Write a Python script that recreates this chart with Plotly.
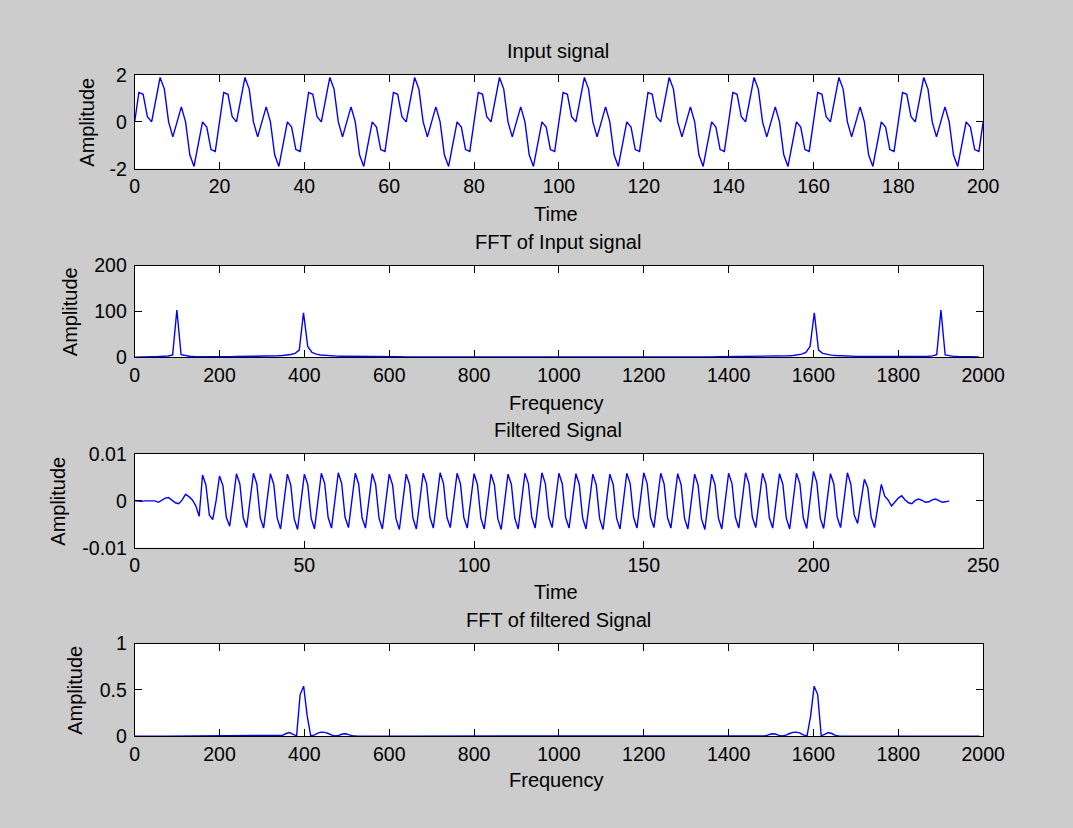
import numpy as np
import plotly.graph_objects as go

W, H = 1073, 828
FS = 2000

# ---------------- data ----------------
input_signal = [
    0.0, 1.26, 1.18, 0.22, 0.0, 1.0, 1.9, 1.4, 0.0, -0.64, 0.0, 0.64, 0.0, -1.4, -1.9, -1.0, 0.0, -0.22, -1.18, -1.26,
    0.0, 1.26, 1.18, 0.22, 0.0, 1.0, 1.9, 1.4, 0.0, -0.64, 0.0, 0.64, 0.0, -1.4, -1.9, -1.0, 0.0, -0.22, -1.18, -1.26,
    0.0, 1.26, 1.18, 0.22, 0.0, 1.0, 1.9, 1.4, 0.0, -0.64, 0.0, 0.64, 0.0, -1.4, -1.9, -1.0, 0.0, -0.22, -1.18, -1.26,
    0.0, 1.26, 1.18, 0.22, 0.0, 1.0, 1.9, 1.4, 0.0, -0.64, 0.0, 0.64, 0.0, -1.4, -1.9, -1.0, 0.0, -0.22, -1.18, -1.26,
    0.0, 1.26, 1.18, 0.22, 0.0, 1.0, 1.9, 1.4, 0.0, -0.64, 0.0, 0.64, 0.0, -1.4, -1.9, -1.0, 0.0, -0.22, -1.18, -1.26,
    0.0, 1.26, 1.18, 0.22, 0.0, 1.0, 1.9, 1.4, 0.0, -0.64, 0.0, 0.64, 0.0, -1.4, -1.9, -1.0, 0.0, -0.22, -1.18, -1.26,
    0.0, 1.26, 1.18, 0.22, 0.0, 1.0, 1.9, 1.4, 0.0, -0.64, 0.0, 0.64, 0.0, -1.4, -1.9, -1.0, 0.0, -0.22, -1.18, -1.26,
    0.0, 1.26, 1.18, 0.22, 0.0, 1.0, 1.9, 1.4, 0.0, -0.64, 0.0, 0.64, 0.0, -1.4, -1.9, -1.0, 0.0, -0.22, -1.18, -1.26,
    0.0, 1.26, 1.18, 0.22, 0.0, 1.0, 1.9, 1.4, 0.0, -0.64, 0.0, 0.64, 0.0, -1.4, -1.9, -1.0, 0.0, -0.22, -1.18, -1.26,
    0.0, 1.26, 1.18, 0.22, 0.0, 1.0, 1.9, 1.4, 0.0, -0.64, 0.0, 0.64, 0.0, -1.4, -1.9, -1.0, 0.0, -0.22, -1.18, -1.26,
    0.0,
]

input_fft = [
    0.2,
    0.8, 0.9, 1.0, 1.1, 1.3, 1.5, 1.9, 2.7, 5.0, 103.0,
    5.5, 3.0, 2.2, 1.8, 1.6, 1.5, 1.4, 1.4, 1.3, 1.3,
    1.35, 1.4, 1.45, 1.5, 1.55, 1.65, 1.75, 1.85, 1.95, 2.0,
    2.2, 2.5, 2.8, 3.2, 3.8, 4.7, 6.1, 8.5, 15.6, 97.0,
    23.4, 10.4, 6.7, 4.9, 3.9, 3.2, 2.8, 2.4, 2.2, 2.0,
    1.85, 1.7, 1.6, 1.5, 1.4, 1.3, 1.25, 1.2, 1.1, 1.05,
    1.0, 0.97, 0.94, 0.91, 0.88, 0.85, 0.83, 0.81, 0.79, 0.77,
    0.75, 0.74, 0.73, 0.72, 0.71, 0.7, 0.69, 0.68, 0.68, 0.67,
    0.67, 0.66, 0.66, 0.65, 0.65, 0.65, 0.64, 0.64, 0.64, 0.64,
    0.63, 0.63, 0.63, 0.63, 0.63, 0.62, 0.62, 0.62, 0.62, 0.62,
    0.62, 0.62, 0.62, 0.62, 0.62, 0.63, 0.63, 0.63, 0.63, 0.63,
    0.64, 0.64, 0.64, 0.64, 0.65, 0.65, 0.65, 0.66, 0.66, 0.67,
    0.67, 0.68, 0.68, 0.69, 0.7, 0.71, 0.72, 0.73, 0.74, 0.75,
    0.77, 0.79, 0.81, 0.83, 0.85, 0.88, 0.91, 0.94, 0.97, 1.0,
    1.05, 1.1, 1.2, 1.25, 1.3, 1.4, 1.5, 1.6, 1.7, 1.85,
    2.0, 2.2, 2.4, 2.8, 3.2, 3.9, 4.9, 6.7, 10.4, 23.4,
    97.0, 15.6, 8.5, 6.1, 4.7, 3.8, 3.2, 2.8, 2.5, 2.2,
    2.0, 1.95, 1.85, 1.75, 1.65, 1.55, 1.5, 1.45, 1.4, 1.35,
    1.3, 1.3, 1.4, 1.4, 1.5, 1.6, 1.8, 2.2, 3.0, 5.5,
    103.0, 5.0, 2.7, 1.9, 1.5, 1.3, 1.1, 1.0, 0.9, 0.8,
]

filtered_signal = [
    0.0, -0.0001, -0.0001, 0.0, 0.0, 0.0001, 0.0, -0.0003, 0.0001, 0.0006,
    0.0007, 0.0002, -0.0004, -0.0006, 0.0002, 0.0014, 0.0009, 0.0002, -0.0010, -0.0033,
    0.0055, 0.0034, -0.0030, -0.0040, 0.0001, 0.0053, 0.0033, -0.0035, -0.0054, 0.0000,
    0.0058, 0.0036, -0.0036, -0.0057, 0.0000,
    0.0059, 0.0036, -0.0036, -0.0058, 0.0001,
    0.0058, 0.0035, -0.0037, -0.0060, -0.0001,
    0.0057, 0.0034, -0.0038, -0.0061, -0.0002,
    0.0057, 0.0035, -0.0037, -0.0060, 0.0000,
    0.0059, 0.0037, -0.0035, -0.0058, 0.0001,
    0.0060, 0.0037, -0.0035, -0.0057, 0.0001,
    0.0059, 0.0036, -0.0036, -0.0058, 0.0000,
    0.0058, 0.0035, -0.0037, -0.0060, -0.0001,
    0.0057, 0.0034, -0.0038, -0.0061, -0.0001,
    0.0057, 0.0035, -0.0037, -0.0060, 0.0000,
    0.0059, 0.0037, -0.0035, -0.0058, 0.0001,
    0.0060, 0.0037, -0.0035, -0.0057, 0.0001,
    0.0059, 0.0036, -0.0036, -0.0058, 0.0000,
    0.0058, 0.0035, -0.0037, -0.0060, -0.0001,
    0.0057, 0.0034, -0.0038, -0.0061, -0.0001,
    0.0057, 0.0035, -0.0037, -0.0060, 0.0000,
    0.0059, 0.0037, -0.0035, -0.0058, 0.0001,
    0.0060, 0.0037, -0.0035, -0.0057, 0.0001,
    0.0059, 0.0036, -0.0036, -0.0058, 0.0000,
    0.0058, 0.0035, -0.0037, -0.0060, -0.0001,
    0.0057, 0.0034, -0.0038, -0.0061, -0.0001,
    0.0057, 0.0035, -0.0037, -0.0060, 0.0000,
    0.0059, 0.0037, -0.0035, -0.0058, 0.0001,
    0.0060, 0.0037, -0.0035, -0.0057, 0.0001,
    0.0059, 0.0036, -0.0036, -0.0058, 0.0000,
    0.0058, 0.0035, -0.0037, -0.0060, -0.0001,
    0.0057, 0.0034, -0.0038, -0.0061, -0.0001,
    0.0057, 0.0035, -0.0037, -0.0060, 0.0000,
    0.0059, 0.0037, -0.0035, -0.0058, 0.0001,
    0.0060, 0.0037, -0.0035, -0.0057, 0.0001,
    0.0059, 0.0036, -0.0036, -0.0058, 0.0000,
    0.0058, 0.0035, -0.0037, -0.0060, -0.0001,
    0.0059, 0.0037, -0.0036, -0.0059, 0.0001,
    0.0063, 0.0039, -0.0037, -0.0059, 0.0000,
    0.0058, 0.0036, -0.0035, -0.0057, 0.0001,
    0.0060, 0.0036, -0.0030, -0.0048, 0.0002,
    0.0046, 0.0028, -0.0035, -0.0057, -0.0010,
    0.0035, 0.0010, 0.0002, -0.0011, -0.0003,
    0.0006, 0.0011, 0.0002, -0.0004, -0.0006,
    0.0001, 0.0004, 0.0001, -0.0003, -0.0002,
    0.0002, 0.0004, 0.0000, -0.0003, -0.0002,
    0.0000,
]

filtered_fft = [
    0.001,
    0.002, 0.002, 0.003, 0.002, 0.002, 0.002, 0.003, 0.002, 0.002, 0.002,
    0.002, 0.003, 0.002, 0.002, 0.002, 0.002, 0.003, 0.002, 0.002, 0.002,
    0.002, 0.002, 0.003, 0.002, 0.002, 0.002, 0.002, 0.003, 0.002, 0.002,
    0.002, 0.003, 0.002, 0.002, 0.003, 0.002, 0.002, 0.003, 0.002, 0.003,
    0.004, 0.01, 0.03, 0.04, 0.02, 0.005, 0.45, 0.54, 0.22, 0.008,
    0.012, 0.035, 0.045, 0.042, 0.03, 0.012, 0.004, 0.01, 0.025, 0.027,
    0.015, 0.004, 0.003, 0.002, 0.002, 0.003, 0.002, 0.002, 0.002, 0.002,
    0.003, 0.002, 0.002, 0.002, 0.002, 0.002, 0.002, 0.002, 0.002, 0.002,
    0.002, 0.002, 0.002, 0.002, 0.002, 0.002, 0.002, 0.002, 0.002, 0.002,
    0.002, 0.002, 0.002, 0.002, 0.002, 0.002, 0.002, 0.002, 0.002, 0.002,
    0.002, 0.002, 0.002, 0.002, 0.002, 0.002, 0.002, 0.002, 0.002, 0.002,
    0.002, 0.002, 0.002, 0.002, 0.002, 0.002, 0.002, 0.002, 0.002, 0.002,
    0.002, 0.002, 0.002, 0.002, 0.002, 0.002, 0.002, 0.002, 0.002, 0.002,
    0.002, 0.002, 0.002, 0.002, 0.002, 0.002, 0.002, 0.002, 0.002, 0.002,
    0.002, 0.002, 0.002, 0.002, 0.002, 0.002, 0.002, 0.002, 0.002, 0.002,
    0.002, 0.002, 0.002, 0.002, 0.002, 0.002, 0.002, 0.002, 0.002, 0.002,
    0.002, 0.002, 0.002, 0.002, 0.002, 0.002, 0.002, 0.002, 0.002, 0.003,
    0.002, 0.002, 0.002, 0.002, 0.002, 0.002, 0.002, 0.003, 0.004, 0.015,
    0.027, 0.025, 0.01, 0.004, 0.012, 0.03, 0.042, 0.045, 0.035, 0.012,
    0.008, 0.22, 0.54, 0.45, 0.005, 0.02, 0.04, 0.03, 0.01, 0.004,
    0.003, 0.002, 0.003, 0.002, 0.002, 0.003, 0.002, 0.002, 0.003, 0.002,
    0.002, 0.002, 0.003, 0.002, 0.002, 0.002, 0.002, 0.003, 0.002, 0.002,
    0.002, 0.003, 0.002, 0.002, 0.002, 0.002, 0.003, 0.002, 0.002, 0.002,
    0.003, 0.002, 0.002, 0.002, 0.003, 0.002, 0.002, 0.002, 0.002, 0.002,
]

titles = ["Input signal", "FFT of Input signal", "Filtered Signal", "FFT of filtered Signal"]
xlabels = ["Time", "Frequency", "Time", "Frequency"]
ylabel = "Amplitude"

# ---------------- figure ----------------
t_in = np.arange(len(input_signal))
f_in = np.arange(len(input_fft)) * FS / len(input_fft)
t_f = np.arange(len(filtered_signal))
f_f = np.arange(len(filtered_fft)) * FS / len(filtered_fft)

FONT = "Liberation Sans, Arial, sans-serif"
TICK_SIZE = 19.5
TXT_SIZE = 20

def py(px):
    return 1 - px / H

def pxx(px):
    return px / W

x_dom = [pxx(133.0), pxx(1003.4)]
boxes = [(65.8, 162.1), (261.5, 355.7), (455.1, 551.4), (649.8, 745.1)]

fig = go.Figure()
series = [(t_in, input_signal), (f_in, input_fft), (t_f, filtered_signal), (f_f, filtered_fft)]
for i, (xv, yv) in enumerate(series):
    fig.add_trace(go.Scatter(x=xv, y=yv, mode="lines",
                             line=dict(color="#0000ff", width=1.4),
                             xaxis="x" if i == 0 else f"x{i+1}",
                             yaxis="y" if i == 0 else f"y{i+1}",
                             showlegend=False, hoverinfo="skip"))

xcfg = [
    dict(range=[0, 200], tickvals=[0, 20, 40, 60, 80, 100, 120, 140, 160, 180, 200]),
    dict(range=[0, 2000], tickvals=[0, 200, 400, 600, 800, 1000, 1200, 1400, 1600, 1800, 2000]),
    dict(range=[0, 250], tickvals=[0, 50, 100, 150, 200, 250]),
    dict(range=[0, 2000], tickvals=[0, 200, 400, 600, 800, 1000, 1200, 1400, 1600, 1800, 2000]),
]
ycfg = [
    dict(range=[-2, 2], tickvals=[-2, 0, 2], ticktext=["-2", "0", "2"]),
    dict(range=[0, 200], tickvals=[0, 100, 200], ticktext=["0", "100", "200"]),
    dict(range=[-0.01, 0.01], tickvals=[-0.01, 0, 0.01], ticktext=["-0.01", "0", "0.01"]),
    dict(range=[0, 1], tickvals=[0, 0.5, 1], ticktext=["0", "0.5", "1"]),
]

common = dict(showline=True, linecolor="#000000", linewidth=1, mirror="ticks",
              ticks="inside", ticklen=7, tickcolor="#000000", tickwidth=1,
              showgrid=False, zeroline=False, fixedrange=True,
              tickfont=dict(family=FONT, size=TICK_SIZE, color="#000000"))

layout = dict(width=W, height=H, autosize=False, margin=dict(l=0, r=0, t=0, b=0),
              paper_bgcolor="#cccccc", plot_bgcolor="#ffffff",
              font=dict(family=FONT, size=TXT_SIZE, color="#000000"))
for i in range(4):
    top, bot = boxes[i]
    xa = dict(common, domain=x_dom, anchor="y" if i == 0 else f"y{i+1}",
              ticktext=[str(v) for v in xcfg[i]["tickvals"]], **xcfg[i])
    ya = dict(common, domain=[py(bot), py(top)], anchor="x" if i == 0 else f"x{i+1}",
              ticklabelstandoff=3, **ycfg[i])
    layout["xaxis" if i == 0 else f"xaxis{i+1}"] = xa
    layout["yaxis" if i == 0 else f"yaxis{i+1}"] = ya

fig.update_layout(**layout)

title_y = [41.2, 236.9, 430.5, 625.2]
xlabel_y = [208.2, 402.9, 596.5, 790.2]
ylabel_x = [83.9, 67.5, 54.2, 71.6]
for i in range(4):
    top, bot = boxes[i]
    fig.add_annotation(text=titles[i], x=pxx(567.7), y=py(title_y[i]), xref="paper", yref="paper",
                       showarrow=False, xanchor="center", yanchor="middle",
                       font=dict(family=FONT, size=TXT_SIZE, color="#000000"))
    fig.add_annotation(text=xlabels[i], x=pxx(565.6), y=py(xlabel_y[i]), xref="paper", yref="paper",
                       showarrow=False, xanchor="center", yanchor="middle",
                       font=dict(family=FONT, size=TXT_SIZE, color="#000000"))
    fig.add_annotation(text=ylabel, x=pxx(ylabel_x[i]), y=py((top + bot) / 2), xref="paper", yref="paper",
                       showarrow=False, xanchor="center", yanchor="middle", textangle=-90,
                       font=dict(family=FONT, size=TXT_SIZE, color="#000000"))

fig.write_html("out.html", config={"displayModeBar": False, "responsive": False},
               post_script="document.body.style.margin='0px';document.body.style.background='#cccccc';document.body.style.overflow='hidden';")
